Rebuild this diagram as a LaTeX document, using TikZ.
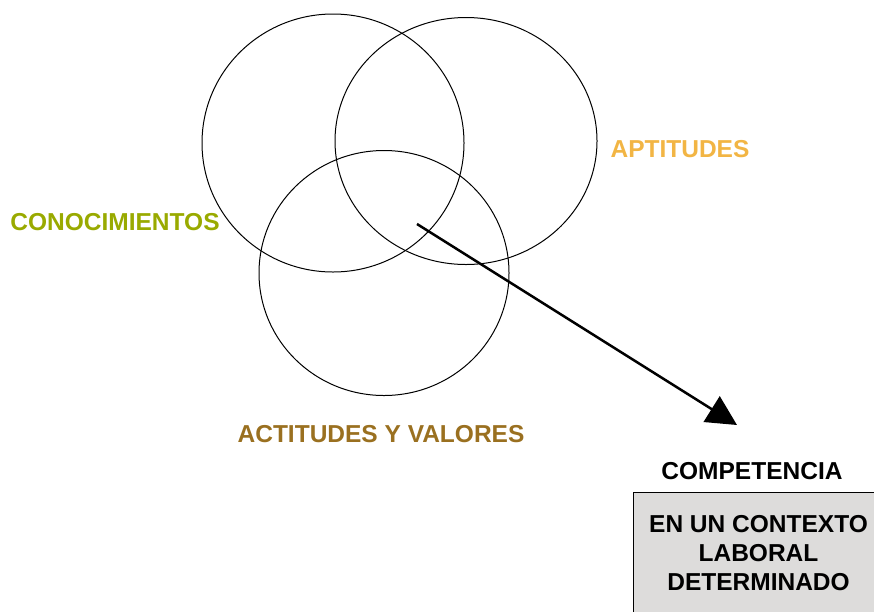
\documentclass[tikz,border=0pt]{standalone}
\usepackage{fontspec}
\setmainfont{Liberation Sans}
\usetikzlibrary{arrows.meta,shapes.geometric}

\definecolor{conocolor}{HTML}{99AA00}
\definecolor{aptcolor}{HTML}{F2B544}
\definecolor{actcolor}{HTML}{9A7020}
\definecolor{boxcolor}{HTML}{DDDCDB}

\begin{document}
\begin{tikzpicture}[x=1pt,y=-1pt,
  set node/.style={ellipse,draw,line width=1pt,inner sep=0pt},
  set label/.style={font=\fontsize{24.5}{29}\selectfont\bfseries},
  result box/.style={draw,line width=1pt,fill=boxcolor,anchor=north west,
    minimum width=250pt,minimum height=122pt,align=center,
    font=\fontsize{24.5}{29}\selectfont\bfseries}]

  \useasboundingbox (0,0) rectangle (874,611);
  \clip (0,0) rectangle (874,611);

  \node[set node,minimum width=262pt,minimum height=258pt] (cono) at (333,143) {};
  \node[set node,minimum width=262pt,minimum height=247pt] (apt) at (466,141) {};
  \node[set node,minimum width=250pt,minimum height=245pt] (act) at (384,273) {};

  \node[set label,text=conocolor] (conolabel) at (115,222) {CONOCIMIENTOS};
  \node[set label,text=aptcolor] (aptlabel) at (680,149) {APTITUDES};
  \node[set label,text=actcolor] (actlabel) at (381,434) {ACTITUDES Y VALORES};

  \node[set label] (comp) at (752,471) {COMPETENCIA};
  \node[result box] (context) at (633,492) {EN UN CONTEXTO\\LABORAL\\DETERMINADO};

  % arrow from the common part
  \coordinate (core) at (417,224);
  \coordinate (tip) at (737,425);
  \draw[line width=2.5pt,-{Triangle[length=30pt,width=30pt]}] (core) -- (tip);

\end{tikzpicture}
\end{document}
